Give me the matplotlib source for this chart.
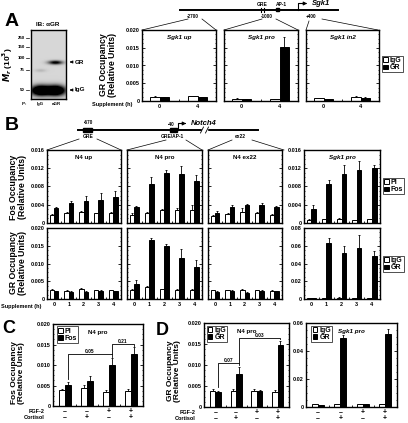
import numpy as np
import matplotlib
matplotlib.use('Agg')
import matplotlib.pyplot as plt
from matplotlib.patches import Rectangle, Patch
from matplotlib.ticker import FuncFormatter, MultipleLocator

plt.rcParams['font.family'] = ['Liberation Sans', 'DejaVu Sans']
plt.rcParams['font.weight'] = 'bold'
plt.rcParams['axes.linewidth'] = 1.0

# ---------------- data ----------------
A_hours = ['0', '4']
A_up_IgG = [0.0012, 0.0013]; A_up_IgG_err = [0.0001, 0.0001]
A_up_GR = [0.0010, 0.0011];  A_up_GR_err = [0.0001, 0.0001]
A_pro_IgG = [0.0007, 0.0006]; A_pro_IgG_err = [0.00005, 0.0001]
A_pro_GR = [0.0006, 0.0151];  A_pro_GR_err = [0.0001, 0.0030]
A_in2_IgG = [0.0008, 0.0012]; A_in2_IgG_err = [0.0001, 0.0001]
A_in2_GR = [0.0005, 0.0009];  A_in2_GR_err = [0.0001, 0.0001]

B_hours = ['0', '1', '2', '3', '4']
B_up_PI = [0.0018, 0.0022, 0.0024, 0.0021, 0.0023]
B_up_PI_err = [0.0002, 0.0002, 0.0002, 0.0001, 0.0002]
B_up_Fos = [0.0033, 0.0043, 0.0049, 0.0051, 0.0057]
B_up_Fos_err = [0.0003, 0.0005, 0.0011, 0.0014, 0.0013]
B_pro_PI = [0.0018, 0.0023, 0.0028, 0.0029, 0.0029]
B_pro_PI_err = [0.0003, 0.0002, 0.0003, 0.0003, 0.0010]
B_pro_Fos = [0.0036, 0.0085, 0.0110, 0.0108, 0.0091]
B_pro_Fos_err = [0.0002, 0.0015, 0.0007, 0.0018, 0.0015]
B_ex_PI = [0.0016, 0.0020, 0.0024, 0.0022, 0.0018]
B_ex_PI_err = [0.0002, 0.0003, 0.0009, 0.0003, 0.0001]
B_ex_Fos = [0.0023, 0.0035, 0.0039, 0.0039, 0.0035]
B_ex_Fos_err = [0.0003, 0.0004, 0.0002, 0.0004, 0.0003]
B_sgk_PI = [0.0007, 0.0008, 0.0009, 0.0006, 0.0008]
B_sgk_PI_err = [0.0001, 0.0001, 0.0001, 0.0001, 0.0001]
B_sgk_Fos = [0.0031, 0.0085, 0.0107, 0.0116, 0.0120]
B_sgk_Fos_err = [0.0009, 0.0010, 0.0020, 0.0019, 0.0007]

B_up_IgG = [0.0025, 0.0023, 0.0028, 0.0024, 0.0025]
B_up_IgG_err = [0.0002, 0.0001, 0.0003, 0.0001, 0.0001]
B_up_GR = [0.0022, 0.0021, 0.0020, 0.0023, 0.0022]
B_up_GR_err = [0.0001, 0.0001, 0.0002, 0.0001, 0.0001]
B_pro_IgG = [0.0025, 0.0033, 0.0027, 0.0025, 0.0024]
B_pro_IgG_err = [0.0002, 0.0004, 0.0001, 0.0004, 0.0003]
B_pro_GR = [0.0042, 0.0165, 0.0150, 0.0115, 0.0090]
B_pro_GR_err = [0.0012, 0.0007, 0.0006, 0.0025, 0.0020]
B_ex_IgG = [0.0025, 0.0024, 0.0026, 0.0024, 0.0023]
B_ex_IgG_err = [0.0001, 0.0001, 0.0001, 0.0001, 0.0001]
B_ex_GR = [0.0021, 0.0023, 0.0018, 0.0023, 0.0022]
B_ex_GR_err = [0.0001, 0.0001, 0.0001, 0.0001, 0.0001]
B_sgk_IgG = [0.0012, 0.0012, 0.0015, 0.0012, 0.0012]
B_sgk_IgG_err = [0.0002, 0.0002, 0.0002, 0.0002, 0.0002]
B_sgk_GR = [0.0008, 0.0630, 0.0520, 0.0570, 0.0480]
B_sgk_GR_err = [0.0002, 0.0060, 0.0080, 0.0150, 0.0060]

CD_fgf2 = ['–', '–', '+', '+']
CD_cortisol = ['–', '+', '–', '+']
C_PI = [0.0038, 0.0043, 0.0034, 0.0036]
C_PI_err = [0.0004, 0.0008, 0.0005, 0.0006]
C_Fos = [0.0051, 0.0062, 0.0101, 0.0127]
C_Fos_err = [0.0008, 0.0012, 0.0017, 0.0017]
D_N4_IgG = [0.0038, 0.0037, 0.0039, 0.0036]
D_N4_IgG_err = [0.0005, 0.0005, 0.0004, 0.0004]
D_N4_GR = [0.0035, 0.0079, 0.0037, 0.0147]
D_N4_GR_err = [0.0004, 0.0017, 0.0004, 0.0011]
D_sgk_IgG = [0.0018, 0.0020, 0.0022, 0.0018]
D_sgk_IgG_err = [0.0002, 0.0003, 0.0003, 0.0002]
D_sgk_GR = [0.0012, 0.0490, 0.0018, 0.0520]
D_sgk_GR_err = [0.0002, 0.0025, 0.0003, 0.0040]

# ---------------- figure ----------------
W, H = 408, 423
fig = plt.figure(figsize=(W / 100, H / 100), dpi=100)

def box_ax(x0, y0, x1, y1):
    return fig.add_axes([x0 / W, 1 - y1 / H, (x1 - x0) / W, (y1 - y0) / H])

def ftext(x, y, s, **kw):
    kw.setdefault('fontsize', 4)
    kw.setdefault('ha', 'center')
    kw.setdefault('va', 'center')
    fig.text(x / W, 1 - y / H, s, **kw)

fmt3 = FuncFormatter(lambda v, p: '0' if abs(v) < 1e-12 else f'{v:.3f}')
fmt2 = FuncFormatter(lambda v, p: '0' if abs(v) < 1e-12 else f'{v:.2f}')

def pair_bars(box, open_v, open_e, fill_v, fill_e, cats, xlim, w, ymax, ystep,
              fmt, ylab=True, xlab=True, title=None, title_it=None):
    ax = box_ax(*box)
    x = np.arange(len(cats))
    ax.bar(x - w / 2, open_v, w, color='white', edgecolor='black', linewidth=0.7, zorder=2)
    ax.bar(x + w / 2, fill_v, w, color='black', edgecolor='black', linewidth=0.7, zorder=2)
    z = np.zeros(len(cats))
    ax.errorbar(x - w / 2, open_v, yerr=[z, open_e], fmt='none', ecolor='black',
                elinewidth=0.6, capsize=1.0, capthick=0.6, zorder=1)
    ax.errorbar(x + w / 2, fill_v, yerr=[z, fill_e], fmt='none', ecolor='black',
                elinewidth=0.6, capsize=1.0, capthick=0.6, zorder=1)
    ax.set_xlim(*xlim)
    ax.set_ylim(0, ymax)
    ax.yaxis.set_major_locator(MultipleLocator(ystep))
    ax.yaxis.set_minor_locator(MultipleLocator(ystep / 4))
    ax.yaxis.set_major_formatter(fmt)
    ax.set_xticks(x)
    ax.set_xticks(x[:-1] + 0.5, minor=True)
    ax.set_xticklabels(cats if xlab else [])
    ax.tick_params(axis='x', which='major', length=0, pad=2.5, labelsize=4)
    ax.tick_params(axis='x', which='minor', direction='in', length=1.5, width=0.6)
    ax.tick_params(axis='y', which='major', direction='in', length=2, width=0.6,
                   right=True, labelsize=4, pad=1.5, labelleft=ylab)
    ax.tick_params(axis='y', which='minor', direction='in', length=1, width=0.5, right=True)
    if title is not None:
        ax.text(0.5, 0.93, title, transform=ax.transAxes, ha='center', va='top',
                fontsize=4.5, style='italic' if title_it else 'normal')
    return ax

def legend_at(ax_or_fig, labels, bbox, loc='upper left'):
    handles = [Patch(facecolor='white', edgecolor='black', linewidth=0.7),
               Patch(facecolor='black', edgecolor='black', linewidth=0.7)]
    lg = ax_or_fig.legend(handles, labels, loc=loc, bbox_to_anchor=bbox,
                          fontsize=5, frameon=True, fancybox=False, edgecolor='black',
                          handlelength=0.7, handleheight=0.7, handletextpad=0.3,
                          borderpad=0.15, labelspacing=0.05, borderaxespad=0.0)
    lg.get_frame().set_linewidth(0.6)
    return lg

YL = 6.3  # y-label font size

# ---------------- Panel A ----------------
xlimA = (-0.47, 1.49)
wA = 0.25
A_boxes = [(142, 30, 216, 101), (224, 30, 298, 101), (306, 30, 379, 101)]
A_sets = [(A_up_IgG, A_up_IgG_err, A_up_GR, A_up_GR_err, 'Sgk1', ' up'),
          (A_pro_IgG, A_pro_IgG_err, A_pro_GR, A_pro_GR_err, 'Sgk1', ' pro'),
          (A_in2_IgG, A_in2_IgG_err, A_in2_GR, A_in2_GR_err, 'Sgk1', ' in2')]
for i, (bx, s) in enumerate(zip(A_boxes, A_sets)):
    ax = pair_bars(bx, s[0], s[1], s[2], s[3], A_hours, xlimA, wA, 0.020, 0.005, fmt3,
                   ylab=(i == 0), title=s[4] + s[5], title_it=True)
legend_at(fig, ['IgG', 'GR'], (382 / W, 1 - 56 / H))

ftext(108, 65, 'GR Occupancy\n(Relative Units)', rotation=90, fontsize=YL, linespacing=1.0)
ftext(133, 104.5, 'Supplement (h)', ha='right', fontsize=4)
ftext(12, 22, 'A', fontsize=14, ha='center')

# Western blot (schematic image)
axw = box_ax(31, 30, 66, 99)
yy, xx = np.mgrid[0:69, 0:35]
img = np.full(yy.shape, 0.84)
def blob(cx, cy, sx, sy, d):
    return d * np.exp(-((xx - cx) ** 2 / (2 * sx ** 2) + (yy - cy) ** 2 / (2 * sy ** 2)))
dark = blob(24, 32, 5, 1.4, 0.9) + blob(9, 40, 4, 1.2, 0.12) + \
    blob(9, 60, 6.5, 3.5, 1.6) + blob(24.5, 60, 6.5, 3.5, 1.6)
img = np.clip(img - dark, 0, 1)
axw.imshow(img, cmap='gray', vmin=0, vmax=1, aspect='auto', interpolation='bilinear')
axw.set_xticks([]); axw.set_yticks([])
for sp in axw.spines.values():
    sp.set_linewidth(1.0)
ftext(48, 25, 'IB: αGR', fontsize=4.5)
for lab, yv in zip(['250', '150', '100', '75', '50'], [38, 47, 58, 70, 90]):
    ftext(24.5, yv, lab, ha='right', fontsize=3.2)
    fig.add_artist(plt.Line2D([26 / W, 29 / W], [1 - yv / H, 1 - yv / H], color='black', lw=0.5))
ftext(8, 65, r'$\mathit{M}_{\mathit{r}}$ (10$^{3}$)', rotation=90, fontsize=6)
ftext(24, 104, 'IP:', fontsize=3.2)
ftext(40, 104, 'IgG', fontsize=3.2)
ftext(56, 104, 'αGR', fontsize=3.2)

# ---------------- Panel B ----------------
xlimB = (-0.47, 4.53)
wB = 0.3
B_cols = [(47, 121), (127, 202), (208, 282), (304, 380)]
fos_sets = [(B_up_PI, B_up_PI_err, B_up_Fos, B_up_Fos_err, 'N4 up', False),
            (B_pro_PI, B_pro_PI_err, B_pro_Fos, B_pro_Fos_err, 'N4 pro', False),
            (B_ex_PI, B_ex_PI_err, B_ex_Fos, B_ex_Fos_err, 'N4 ex22', False),
            (B_sgk_PI, B_sgk_PI_err, B_sgk_Fos, B_sgk_Fos_err, 'Sgk1 pro', True)]
gr_sets = [(B_up_IgG, B_up_IgG_err, B_up_GR, B_up_GR_err),
           (B_pro_IgG, B_pro_IgG_err, B_pro_GR, B_pro_GR_err),
           (B_ex_IgG, B_ex_IgG_err, B_ex_GR, B_ex_GR_err),
           (B_sgk_IgG, B_sgk_IgG_err, B_sgk_GR, B_sgk_GR_err)]
for i, ((x0, x1), s) in enumerate(zip(B_cols, fos_sets)):
    pair_bars((x0, 150, x1, 223), s[0], s[1], s[2], s[3], B_hours, xlimB, wB,
              0.016, 0.004, fmt3, ylab=(i in (0, 3)), xlab=False, title=s[4], title_it=s[5])
for i, ((x0, x1), s) in enumerate(zip(B_cols, gr_sets)):
    if i == 3:
        pair_bars((x0, 228, x1, 299), s[0], s[1], s[2], s[3], B_hours, xlimB, wB,
                  0.08, 0.02, fmt2, ylab=True)
    else:
        pair_bars((x0, 228, x1, 299), s[0], s[1], s[2], s[3], B_hours, xlimB, wB,
                  0.020, 0.005, fmt3, ylab=(i == 0))
legend_at(fig, ['PI', 'Fos'], (383 / W, 1 - 178 / H))
legend_at(fig, ['IgG', 'GR'], (383 / W, 1 - 256 / H))
ftext(18, 187, 'Fos Occupancy\n(Relative Units)', rotation=90, fontsize=YL, linespacing=1.0)
ftext(18, 263, 'GR Occupancy\n(Relative Units)', rotation=90, fontsize=YL, linespacing=1.0)
ftext(1, 306, 'Supplement (h)', ha='left', fontsize=4)
ftext(12, 126, 'B', fontsize=14)

# ---------------- Panels C and D ----------------
xlimC = (-0.55, 3.55)
wC = 0.27

def cd_rows(ax, labels_left):
    x = np.arange(4)
    for xi, f, c in zip(x, CD_fgf2, CD_cortisol):
        ax.text(xi, -0.07, f, transform=ax.get_xaxis_transform(), ha='center', va='center', fontsize=5)
        ax.text(xi, -0.14, c, transform=ax.get_xaxis_transform(), ha='center', va='center', fontsize=5)
    if labels_left:
        ax.text(-0.1, -0.07, 'FGF-2', transform=ax.transAxes, ha='right', va='center', fontsize=4)
        ax.text(-0.1, -0.14, 'Cortisol', transform=ax.transAxes, ha='right', va='center', fontsize=4)

def bracket(ax, xa, xb, y, ya, yb, label):
    ax.plot([xa, xa, xb, xb], [ya, y, y, yb], color='black', lw=0.6, zorder=3)
    ax.text((xa + xb) / 2, y, label, ha='center', va='bottom', fontsize=3.5)

axC = pair_bars((53, 324, 143, 406), C_PI, C_PI_err, C_Fos, C_Fos_err, ['', '', '', ''],
                xlimC, wC, 0.020, 0.005, fmt3, xlab=False, title='N4 pro')
cd_rows(axC, True)
legend_at(axC, ['PI', 'Fos'], (0.04, 0.97))
bracket(axC, 0 + wC / 2, 2 + wC / 2, 0.0127, C_Fos[0] + C_Fos_err[0] + 0.0007,
        C_Fos[2] + C_Fos_err[2] + 0.0002, '0.05')
bracket(axC, 2 + wC / 2, 3 + wC / 2, 0.0151, 0.0127, C_Fos[3] + C_Fos_err[3] + 0.0002, '0.21')
ftext(18, 373, 'Fos Occupancy\n(Relative Units)', rotation=90, fontsize=6, linespacing=1.0)
ftext(9, 328, 'C', fontsize=13)

axD1 = pair_bars((204, 323, 289, 407), D_N4_IgG, D_N4_IgG_err, D_N4_GR, D_N4_GR_err,
                 ['', '', '', ''], xlimC, wC, 0.020, 0.005, fmt3, xlab=False, title='N4 pro')
cd_rows(axD1, True)
legend_at(axD1, ['IgG', 'GR'], (0.03, 0.97))
bracket(axD1, 0 + wC / 2, 1 + wC / 2, 0.0105, D_N4_GR[0] + D_N4_GR_err[0] + 0.0009,
        D_N4_GR[1] + D_N4_GR_err[1] + 0.0004, '0.07')
bracket(axD1, 1 + wC / 2, 3 + wC / 2, 0.0164, 0.0105, D_N4_GR[3] + D_N4_GR_err[3] + 0.0004, '0.03')

axD2 = pair_bars((306, 323, 397, 407), D_sgk_IgG, D_sgk_IgG_err, D_sgk_GR, D_sgk_GR_err,
                 ['', '', '', ''], xlimC, wC, 0.06, 0.02, fmt2, xlab=False,
                 title='Sgk1 pro', title_it=True)
cd_rows(axD2, False)
legend_at(axD2, ['IgG', 'GR'], (0.06, 0.97))
ftext(174, 371, 'GR Occupancy\n(Relative Units)', rotation=90, fontsize=6, linespacing=1.0)
ftext(162, 330, 'D', fontsize=13)

# ---------------- gene maps (overlay) ----------------
ov = fig.add_axes([0, 0, 1, 1])
ov.set_xlim(0, W); ov.set_ylim(H, 0)
ov.patch.set_visible(False)
ov.axis('off')
lk = dict(color='black', lw=0.5)
# Sgk1 map
ov.plot([180, 338], [10, 10], color='black', lw=1.4)
ov.plot([261, 261], [8, 12], color='black', lw=0.8)
ov.plot([264, 264], [8, 12], color='black', lw=0.8)
ov.add_patch(Rectangle((275.5, 8.5), 3, 3, color='black'))
ov.plot([298, 298, 304], [10, 3.5, 3.5], color='black', lw=0.8)
ov.annotate('', xy=(310, 3.5), xytext=(303, 3.5),
            arrowprops=dict(arrowstyle='-|>', color='black', lw=0.8, mutation_scale=5))
ov.text(312, 3.5, 'Sgk1', style='italic', fontsize=5.5, ha='left', va='center')
ov.text(262.5, 4.5, 'GRE', fontsize=3.5, ha='center', va='center')
ov.text(281, 4.5, 'AP-1', fontsize=3.5, ha='center', va='center')
for s, xv in [('-2700', 193), ('-1000', 267), ('+400', 311)]:
    ov.text(xv, 16, s, fontsize=3.3, ha='center', va='center')
for seg in [((142, 188), (30, 19)), ((202, 216), (19, 30)), ((224, 262), (30, 19)),
            ((276, 298), (19, 30)), ((306, 309), (30, 21)), ((322, 378), (19, 30))]:
    ov.plot(seg[0], seg[1], **lk)
# Notch4 map
ov.plot([78, 258], [130, 130], color='black', lw=1.4)
ov.add_patch(Rectangle((83, 128), 9, 4, color='black'))
ov.add_patch(Rectangle((170, 128), 7, 4, color='black'))
ov.plot([178, 178, 183], [130, 123.5, 123.5], color='black', lw=0.8)
ov.annotate('', xy=(189, 123.5), xytext=(182, 123.5),
            arrowprops=dict(arrowstyle='-|>', color='black', lw=0.8, mutation_scale=5))
ov.text(191, 123.5, 'Notch4', style='italic', fontsize=5.5, ha='left', va='center')
ov.text(175, 124.5, '-40', fontsize=3.3, ha='right', va='center')
ov.text(88, 123, '-670', fontsize=3.3, ha='center', va='center')
ov.text(88, 136, 'GRE', fontsize=3.5, ha='center', va='center')
ov.text(172, 136, 'GRE/AP-1', fontsize=3.5, ha='center', va='center')
ov.text(240, 136, 'ex22', fontsize=3.5, ha='center', va='center')
ov.add_patch(Rectangle((202, 127), 5, 6, color='white', zorder=3))
ov.plot([200.5, 203.5], [133, 127], color='black', lw=0.6, zorder=4)
ov.plot([205.5, 208.5], [133, 127], color='black', lw=0.6, zorder=4)
for seg in [((47, 79), (150, 139)), ((97, 121), (139, 150)), ((127, 166), (150, 140)),
            ((186, 202), (140, 150)), ((208, 232), (150, 140)), ((252, 284), (140, 150))]:
    ov.plot(seg[0], seg[1], **lk)
# GR / IgG arrows beside blot
for lab, yv in [('GR', 62), ('IgG', 90)]:
    ov.annotate('', xy=(67, yv), xytext=(74, yv),
                arrowprops=dict(arrowstyle='-|>', color='black', lw=0.6, mutation_scale=4))
    ov.text(75, yv, lab, fontsize=4.5, ha='left', va='center')

fig.savefig('out.png', dpi=100)
